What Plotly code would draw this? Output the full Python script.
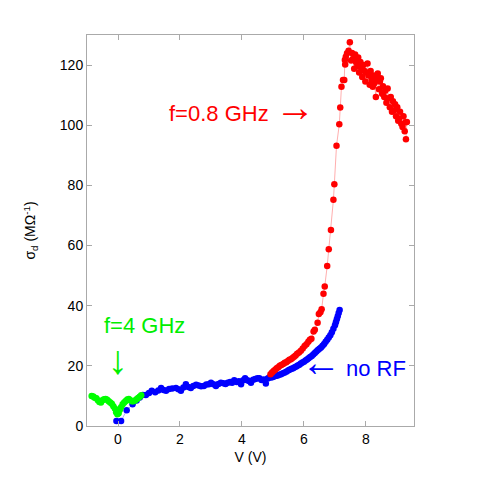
import plotly.graph_objects as go

# no RF (blue)
blue_v = [-0.05, 0.1, 0.28, 0.47, 0.6, 0.7, 0.8, 0.9, 1.0, 1.09, 1.2, 1.3, 1.39, 1.47, 1.55,
          1.65, 1.75, 1.87, 1.95, 2.03, 2.11, 2.19, 2.27, 2.35, 2.43, 2.52, 2.6, 2.68, 2.77,
          2.85, 2.93, 3.0, 3.08, 3.16, 3.24, 3.32, 3.4, 3.47, 3.54, 3.62, 3.68, 3.75, 3.83,
          3.9, 3.97, 4.04, 4.1, 4.17, 4.23, 4.29, 4.36, 4.43, 4.5, 4.56, 4.63, 4.7, 4.77,
          4.83, 4.88, 4.94, 5.0, 5.05, 5.1, 5.15, 5.2, 5.26, 5.32, 5.38, 5.44, 5.5, 5.55,
          5.6, 5.65, 5.7, 5.75, 5.8, 5.85, 5.9, 5.95, 6.0, 6.05, 6.1, 6.15, 6.2, 6.25, 6.3,
          6.35, 6.4, 6.45, 6.5, 6.55, 6.6, 6.65, 6.7, 6.75, 6.8, 6.85, 6.9, 6.95, 7.0, 7.03,
          7.06, 7.09, 7.12, 7.15]
blue_s = [1.7, 1.7, 5.2, 7.2, 8.5, 9.5, 10.3, 10.3, 11.0, 11.7, 11.2, 11.8, 12.6, 12.0, 11.7,
          12.3, 12.5, 12.6, 12.2, 11.7, 12.8, 13.9, 13.0, 12.6, 13.3, 13.7, 13.5, 13.2, 13.3,
          13.8, 13.9, 14.4, 13.9, 13.3, 14.0, 14.4, 14.2, 14.0, 14.4, 14.6, 14.4, 15.2, 14.6,
          14.9, 13.9, 15.2, 15.9, 15.2, 15.0, 14.4, 15.4, 15.6, 15.9, 15.9, 15.3, 15.5, 14.1,
          15.8, 16.1, 16.1, 16.3, 16.5, 16.7, 16.8, 17.0, 17.2, 17.5, 17.8, 18.1, 18.5, 18.8,
          19.0, 19.2, 19.5, 19.8, 20.1, 20.4, 20.8, 21.1, 21.4, 21.8, 22.1, 22.5, 22.9, 23.3,
          23.8, 24.3, 24.8, 25.3, 25.7, 26.1, 26.7, 27.3, 28.0, 28.7, 29.4, 30.2, 31.2, 32.3,
          33.5, 34.5, 35.5, 36.5, 37.6, 38.6]

# f = 0.8 GHz (red)
red_v = [4.92, 4.97, 5.02, 5.07, 5.12, 5.17, 5.22, 5.27, 5.33, 5.38, 5.43, 5.48, 5.53, 5.58,
         5.63, 5.68, 5.73, 5.78, 5.84, 5.9, 5.96, 6.02, 6.08, 6.14, 6.19, 6.24, 6.31, 6.35,
         6.44, 6.48, 6.53, 6.57, 6.63, 6.67, 6.75, 6.8, 6.87, 6.95, 6.98, 7.05, 7.14, 7.17,
         7.21, 7.26, 7.3, 7.32, 7.33, 7.35, 7.39, 7.44, 7.48, 7.52, 7.55, 7.58, 7.62, 7.65,
         7.68, 7.72, 7.75, 7.78, 7.82, 7.85, 7.88, 7.92, 7.95, 7.98, 8.02, 8.05, 8.08, 8.12,
         8.15, 8.18, 8.22, 8.25, 8.28, 8.32, 8.35, 8.38, 8.42, 8.45, 8.48, 8.52, 8.55, 8.59,
         8.62, 8.66, 8.7, 8.73, 8.77, 8.8, 8.84, 8.87, 8.91, 8.94, 8.97, 9.01, 9.04, 9.07,
         9.1, 9.14, 9.18, 9.21, 9.25, 9.28, 9.32, 9.29]
red_s = [17.2, 17.8, 18.3, 18.7, 19.2, 19.5, 20.0, 20.3, 20.6, 21.0, 21.2, 21.6, 22.0, 22.2,
         22.6, 23.0, 23.4, 24.0, 24.4, 25.0, 25.8, 26.6, 27.2, 28.0, 28.7, 29.0, 31.4, 32.0,
         34.3, 37.2, 37.8, 38.8, 44.0, 46.4, 53.2, 58.8, 65.2, 75.2, 80.4, 93.2, 100.3, 105.9,
         112.8, 115.0, 115.0, 121.7, 120.2, 122.8, 123.9, 124.8, 127.6, 121.5, 124.0, 122.0, 118.8, 123.5,
         121.0, 119.5, 122.5, 117.5, 121.0, 119.0, 116.0, 120.0, 118.0, 114.5, 117.5, 120.5, 116.5, 113.5,
         118.0, 115.0, 112.8, 116.5, 114.0, 109.4, 115.5, 117.2, 112.0, 114.5, 115.6, 110.5, 113.0, 109.4,
         111.5, 107.5, 112.2, 109.0, 106.0, 109.4, 104.5, 108.0, 105.0, 107.0, 103.0, 106.0, 101.5, 102.2,
         104.5, 100.5, 99.4, 103.0, 98.0, 101.0, 101.1, 95.3]

# f = 4 GHz (green)
green_v = [-0.85, -0.8, -0.75, -0.7, -0.65, -0.6, -0.55, -0.5, -0.45, -0.4, -0.35, -0.3, -0.25,
           -0.2, -0.15, -0.1, -0.06, -0.02, 0.02, 0.06, 0.1, 0.15, 0.2, 0.25, 0.3, 0.35, 0.4,
           0.45, 0.5, 0.55, 0.6, 0.65, 0.7, 0.75]
green_s = [10.0, 9.8, 9.4, 9.2, 8.6, 8.0, 7.8, 8.6, 8.9, 9.0, 8.7, 8.2, 7.8,
           7.4, 6.6, 5.8, 4.6, 3.9, 4.2, 5.4, 6.2, 7.2, 7.8, 8.3, 8.8, 9.0, 8.6,
           8.2, 8.2, 8.5, 8.9, 9.3, 9.7, 10.2]

FONT = "Liberation Sans, Arial, sans-serif"
ARROW_FONT = "Noto Sans"

fig = go.Figure()
fig.add_trace(go.Scatter(x=blue_v, y=blue_s, mode="lines+markers", name="no RF",
                         line=dict(color="rgba(120,120,255,0.6)", width=1),
                         marker=dict(color="#0000ff", size=6.5)))
fig.add_trace(go.Scatter(x=red_v, y=red_s, mode="lines+markers", name="f=0.8 GHz",
                         line=dict(color="rgba(255,120,120,0.6)", width=1),
                         marker=dict(color="#ff0000", size=6.5)))
fig.add_trace(go.Scatter(x=green_v, y=green_s, mode="lines+markers", name="f=4 GHz",
                         line=dict(color="rgba(120,255,120,0.6)", width=1),
                         marker=dict(color="#00ff00", size=6.5)))

# text, x, y, colour, font, size, angle ("↓" drawn as a rotated "→" to keep its box small)
labels = [
    ("f=0.8 GHz", 3.27, 104, "#ff0000", FONT, 22, 0),
    ("→", 5.7, 106.7, "#ff0000", ARROW_FONT, 40, 0),
    ("f=4 GHz", 0.85, 33.3, "#00ee00", FONT, 22, 0),
    ("→", 0.26, 21.0, "#00ee00", ARROW_FONT, 40, 90),
    ("←", 6.55, 21.7, "#0000ff", ARROW_FONT, 40, 0),
    ("no RF", 8.32, 19, "#0000ff", FONT, 22, 0),
]
for text, x, y, color, family, size, angle in labels:
    fig.add_annotation(x=x, y=y, text=text, showarrow=False, textangle=angle,
                       font=dict(family=family, size=size, color=color))

axis_style = dict(showgrid=False, zeroline=False, showline=True, linecolor="#aaaaaa",
                  linewidth=1, mirror="ticks", ticks="inside", tickcolor="#aaaaaa",
                  ticklen=5, tickfont=dict(family=FONT, size=14, color="black"))
fig.update_xaxes(range=[-1.0, 9.55], dtick=2, title=dict(text="V (V)", standoff=6,
                 font=dict(family=FONT, size=14, color="black")), **axis_style)
fig.update_yaxes(range=[0, 130], dtick=20,
                 title=dict(text="σ<sub>d</sub> (MΩ<sup>-1</sup>)", standoff=20,
                            font=dict(family=FONT, size=14, color="black")), **axis_style)
fig.update_layout(width=483, height=483, showlegend=False,
                  plot_bgcolor="white", paper_bgcolor="white",
                  margin=dict(l=79, r=77, t=27, b=65), font=dict(family=FONT))
fig.write_html("out.html")
